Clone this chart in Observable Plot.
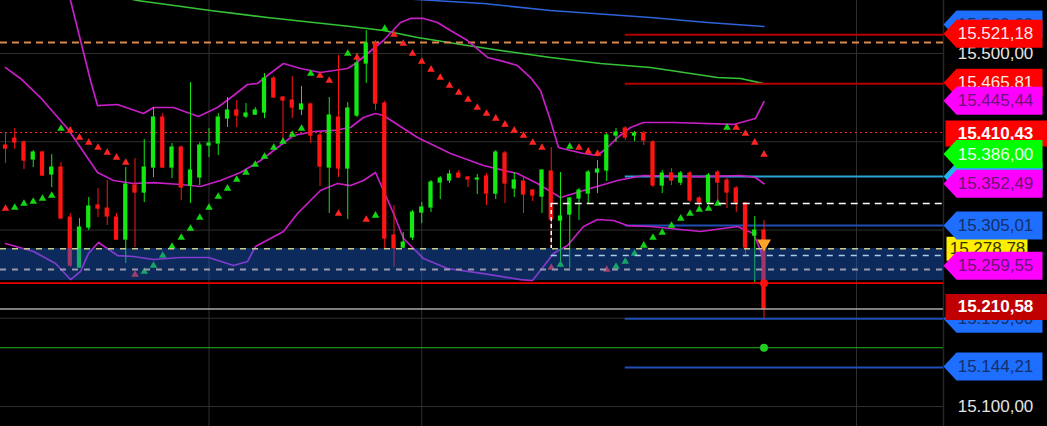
<!DOCTYPE html>
<html><head><meta charset="utf-8">
<script src="https://cdn.jsdelivr.net/npm/d3@7"></script>
<script src="https://cdn.jsdelivr.net/npm/@observablehq/plot@0.6"></script>
<style>html,body{margin:0;padding:0;background:#000;overflow:hidden}</style>
</head><body><div id="chart"></div>
<script>
// ---- candles (index 0..82) ----
const openP  = [15395.7,15403.6,15399.1,15379.9,15387.8,15362.9,15370.8,15314.1,15257.5,15302.8,15327.7,15324.3,15314.1,15289.2,15350.4,15342.5,15370.8,15427.4,15370.8,15393.4,15350.4,15359.5,15395.7,15398.0,15426.3,15435.4,15428.6,15430.8,15433.1,15471.6,15450.1,15446.7,15436.5,15442.2,15407.0,15370.8,15427.4,15369.7,15429.7,15488.6,15511.3,15443.3,15293.7,15280.1,15291.5,15319.8,15325.5,15353.8,15356.1,15364.0,15359.5,15357.2,15360.6,15341.3,15386.7,15347.0,15354.9,15344.7,15337.9,15366.3,15310.7,15317.5,15335.7,15341.3,15365.1,15367.4,15407.0,15415.0,15407.0,15409.3,15399.1,15350.4,15364.0,15353.8,15364.0,15335.7,15331.1,15365.1,15356.1,15347.0,15330.0,15293.7,15299.4];
const highP  = [15409.3,15415.0,15401.0,15390.0,15389.0,15385.5,15376.5,15318.7,15313.0,15336.8,15347.0,15356.1,15318.7,15370.8,15381.0,15402.5,15438.8,15432.0,15398.0,15395.0,15467.1,15399.1,15415.0,15432.0,15450.1,15446.7,15443.3,15438.8,15477.3,15473.9,15451.2,15473.9,15462.6,15444.0,15410.4,15450.1,15497.7,15444.4,15500.0,15526.0,15514.7,15446.0,15327.7,15297.1,15322.1,15331.1,15356.1,15360.6,15367.4,15367.4,15360.6,15362.9,15364.0,15390.0,15389.0,15365.1,15359.5,15345.9,15368.0,15393.4,15365.1,15336.8,15347.0,15367.4,15378.7,15409.3,15415.0,15417.2,15411.6,15411.6,15401.4,15367.4,15369.7,15366.3,15366.3,15337.9,15364.0,15367.4,15358.3,15349.3,15331.1,15315.3,15310.7];
const lowP   = [15375.3,15391.2,15368.5,15370.8,15360.6,15348.1,15312.0,15257.5,15256.4,15299.4,15314.1,15305.1,15288.1,15262.0,15280.1,15331.1,15359.5,15369.7,15358.3,15333.4,15330.0,15350.4,15382.1,15384.4,15416.1,15416.1,15426.3,15429.7,15426.3,15449.0,15400.2,15426.3,15429.7,15398.0,15349.3,15318.7,15359.5,15311.9,15427.4,15466.0,15435.4,15279.0,15257.5,15279.0,15288.1,15307.3,15319.8,15334.5,15352.7,15358.3,15348.1,15340.2,15327.7,15334.5,15330.0,15336.8,15318.7,15332.3,15318.7,15279.0,15257.5,15256.4,15310.7,15330.0,15341.3,15354.9,15399.1,15401.4,15400.2,15395.7,15348.1,15341.3,15350.4,15350.4,15331.1,15325.5,15328.9,15330.0,15324.3,15319.8,15271.1,15240.5,15197.4];
const closeP = [15392.3,15399.1,15378.7,15387.8,15361.7,15370.8,15313.0,15259.8,15302.8,15326.6,15324.3,15315.3,15289.2,15351.5,15342.5,15370.8,15427.4,15370.8,15393.4,15348.1,15367.4,15395.7,15398.0,15427.4,15435.4,15429.7,15432.0,15435.4,15471.6,15450.1,15446.7,15438.8,15442.2,15407.0,15371.9,15429.7,15369.7,15437.6,15488.6,15511.3,15443.3,15290.3,15279.0,15285.8,15319.8,15325.5,15353.8,15358.3,15362.9,15359.5,15357.2,15358.3,15341.3,15387.8,15352.7,15356.1,15340.2,15339.1,15367.4,15311.9,15315.3,15335.7,15344.7,15365.1,15368.5,15407.0,15410.4,15404.8,15409.3,15401.4,15350.4,15364.0,15356.1,15364.0,15333.4,15331.1,15361.7,15353.8,15342.5,15331.1,15280.1,15299.4,15210.58];

// ---- parabolic SAR (one per candle) ----
const sarValue = [15324.4,15325.5,15330.0,15332.3,15335.7,15339.1,15415.0,15412.8,15404.8,15399.1,15393.5,15387.8,15382.2,15376.5,15249.6,15253.0,15259.8,15271.1,15281.3,15291.5,15301.7,15314.2,15325.5,15338.0,15347.1,15357.2,15365.2,15374.2,15383.3,15393.5,15400.3,15408.2,15415.0,15477.3,15475.1,15469.4,15318.7,15500.0,15495.5,15311.9,15316.5,15528.3,15521.5,15511.3,15500.0,15490.9,15481.9,15472.8,15463.7,15455.8,15447.9,15438.8,15432.0,15426.4,15419.6,15412.8,15407.1,15399.1,15393.5,15257.5,15260.9,15394.6,15393.5,15389.0,15386.7,15255.3,15258.7,15264.3,15273.4,15282.5,15291.5,15297.2,15305.1,15313.1,15318.7,15323.2,15324.4,15330.1,15416.2,15416.2,15409.3,15399.2,15385.6];
const sarSide = "rggggggrrrrrrrrgggggggggggggggggggrrrgrrggrrrrrrrrrrrrrrrrrrggrrrrgggggggggggggrrrr";

// ---- Bollinger bands: [candle index, price] ----
const bbUpper = [[6.05,15605.4],[7.03,15560.0],[8.11,15514.7],[9.19,15469.4],[9.95,15441.0],[12.11,15442.2],[14.92,15432.0],[16,15438.8],[18.16,15438.8],[20.86,15428.6],[22.92,15438.8],[24.65,15452.4],[26.16,15464.9],[27.24,15466.0],[28.32,15475.1],[30.05,15488.7],[31.89,15483.0],[34.05,15478.5],[36.97,15483.0],[37.84,15488.7],[39.14,15500.0],[40.86,15514.7],[42.7,15535.1],[43.78,15539.7],[45.19,15539.7],[46.7,15535.1],[48.11,15526.1],[49.95,15514.7],[52.11,15495.5],[53.51,15492.0],[55.35,15486.4],[56.76,15472.8],[57.84,15458.1],[58.92,15424.1],[59.78,15393.5],[61.08,15390.1],[62.49,15386.7],[64,15384.4],[65.08,15393.5],[66.16,15404.8],[67.57,15416.2],[68.97,15421.8],[72.22,15421.8],[78.7,15419.6],[81.08,15426.4],[82,15445.44]];
const bbMiddle = [[0,15484.0],[1.62,15471.7],[3.78,15450.1],[5.19,15433.2],[6.7,15415.0],[8.11,15393.5],[9.95,15365.2],[11.68,15356.1],[13.84,15352.7],[16,15353.8],[18.92,15351.6],[21.08,15349.3],[23.24,15356.1],[25.41,15365.2],[27.57,15378.8],[29.41,15393.5],[31.14,15407.1],[33.3,15411.6],[35.46,15412.8],[37.3,15416.2],[38.7,15427.5],[40,15432.0],[40.86,15429.8],[44.54,15404.8],[48.11,15386.7],[51.68,15373.1],[55.35,15364.0],[57.51,15352.7],[60,15336.9],[62.49,15344.8],[66.16,15356.1],[68.97,15361.8],[75.14,15360.6],[79.46,15361.8],[81.08,15359.5],[82,15352.49]];
const bbLower = [[0,15284.7],[3.03,15275.7],[5.41,15262.1],[7.03,15243.9],[8.11,15253.0],[8.97,15273.4],[10.05,15285.9],[12.11,15271.1],[13.84,15270.0],[16,15266.6],[18.92,15268.9],[21.95,15268.9],[24.65,15259.8],[26.16,15264.3],[27.03,15281.3],[30.05,15298.3],[31.57,15318.7],[34.05,15344.8],[35.89,15352.7],[37.3,15350.4],[38.7,15356.1],[40,15365.2],[40.86,15344.8],[41.95,15318.7],[43.03,15290.4],[45.19,15267.7],[47.78,15256.4],[51.68,15250.7],[55.68,15243.9],[56.97,15242.8],[58.16,15258.7],[59.24,15273.4],[60.76,15282.5],[62.49,15304.0],[64,15311.9],[65.73,15310.8],[67.24,15305.1],[69.73,15304.0],[75.14,15298.3],[79.14,15304.0],[80.86,15296.1],[81.62,15276.8],[82,15259.55]];

// ---- moving averages ----
const maGreen = [[13,15563.0],[14.27,15560.0],[22.16,15548.7],[28.32,15540.8],[37.3,15530.6],[40.86,15526.0],[44.54,15518.1],[49.95,15509.0],[53.51,15503.4],[58.92,15495.5],[64.32,15488.6],[69.73,15484.1],[76.97,15472.8],[79.46,15471.7],[82,15465.81]];
const maBlue = [[44,15561.5],[46.27,15560.0],[51.68,15556.6],[58.92,15548.7],[69.73,15540.8],[75.89,15535.1],[82,15530.6]];

// ---- levels ----
const gridPrices = [15100, 15200, 15300, 15400, 15500];
const gridIdx = [22, 45, 92];
const zoneTop = 15279.0, zoneBottom = 15242.8;
const levelStart = 67;     // candle where right-hand levels start
const boxStart = 59;       // candle where the white box starts
const orangeLevel = 15512.5;
const redDotted = 15410.43;
const yellowDash = 15278.78;
const lightBlueDash = 15271.1;
const greyDash = 15255.3;
const whiteBox = 15330.0;
const redSolid = 15239.8;
const lastPrice = 15210.58;
const greenLevel = 15166.6;
const rightLevels = [
  {p: 15521.18, c: "#b40000"}, {p: 15465.81, c: "#b40000"},
  {p: 15360.6, c: "#2aa6d6"}, {p: 15305.01, c: "#1f4fb4"},
  {p: 15199.6, c: "#1f4fb4"}, {p: 15144.21, c: "#1f4fb4"}
];
const signalDown = 15284.7;

// ---- price labels on the right ----
const labelPrice = [15530.6, 15360.6, 15278.78, 15199.6, 15465.81, 15410.43, 15521.18, 15445.44, 15386.00, 15352.49, 15305.01, 15259.55, 15210.58, 15144.21];
const labelKind  = ["blue","cyan","yellow","blue","red","redBox","red","magenta","green","magenta","blue","magenta","darkBox","blue"];
const axisLabels = [15500, 15100];

const fmt = d3.formatLocale({decimal: ",", thousands: ".", grouping: [3], currency: ["", ""]}).format(",.2f");

const arrowSym = {draw(c) { c.moveTo(-52, 0); c.lineTo(-39, -14); c.lineTo(47, -14); c.lineTo(47, 14); c.lineTo(-39, 14); c.closePath(); }};
const boxSym = {draw(c) { c.moveTo(-50, -13); c.lineTo(52, -13); c.lineTo(52, 13); c.lineTo(-50, 13); c.closePath(); }};
const yBoxSym = {draw(c) { c.moveTo(-49, -12); c.lineTo(32, -12); c.lineTo(32, 12); c.lineTo(-49, 12); c.closePath(); }};
const kindStyle = {
  blue:    {sym: arrowSym, bg: "#1e6eff", fg: "#13306c", bold: false},
  cyan:    {sym: arrowSym, bg: "#22b4ee", fg: "#13306c", bold: false},
  yellow:  {sym: yBoxSym,  bg: "#ffee00", fg: "#333300", bold: false},
  red:     {sym: arrowSym, bg: "#ff0000", fg: "#ffe8e8", bold: false},
  redBox:  {sym: boxSym,   bg: "#ff0000", fg: "#ffffff", bold: true},
  magenta: {sym: arrowSym, bg: "#ff00ff", fg: "#6b1475", bold: false},
  green:   {sym: arrowSym, bg: "#00ff00", fg: "#eaffea", bold: false},
  darkBox: {sym: boxSym,   bg: "#c00000", fg: "#ffffff", bold: true}
};
const labelNudge = [-2, 0, 0, 0, -1, 1, -1, -1, 0, 0, 0, 0, -2, -1];

const candles = openP.map((o, i) => ({i, o, h: highP[i], l: lowP[i], c: closeP[i], up: closeP[i] >= o}));
const sar = sarValue.map((v, i) => ({i, v, side: sarSide[i]}));
const UP = "#12e812", DOWN = "#ff1414";
const font = "Arial, 'Liberation Sans', sans-serif";

const labelMarks = [];
labelPrice.forEach((p, k) => {
  const s = kindStyle[labelKind[k]];
  labelMarks.push(Plot.dot([p], {y: d => d, frameAnchor: "right", dx: 52, dy: labelNudge[k], r: 1, symbol: s.sym, fill: s.bg, stroke: "none"}));
  labelMarks.push(Plot.text([p], {y: d => d, frameAnchor: "right", dx: labelKind[k] === "yellow" ? 44 : 52, dy: labelNudge[k], text: d => fmt(d), fill: s.fg, fontSize: 17, fontFamily: font, fontWeight: s.bold ? "bold" : "normal", textAnchor: "middle"}));
});

const xMax = 101.405;
const chart = Plot.plot({
  width: 1047, height: 426,
  marginLeft: 0, marginRight: 104, marginTop: 0, marginBottom: 0,
  x: {domain: [-0.5405, xMax], axis: null},
  y: {domain: [15077.4, 15560.05], axis: null},
  style: {background: "#000", overflow: "visible"},
  marks: [
    Plot.ruleY(gridPrices, {stroke: "#2f2f2f", strokeWidth: 1}),
    Plot.ruleX(gridIdx, {stroke: "#2f2f2f", strokeWidth: 1}),
    Plot.ruleX([xMax], {stroke: "#262626", strokeWidth: 1.5}),
    Plot.line(maBlue, {x: "0", y: "1", stroke: "#2d63d8", strokeWidth: 1.6, clip: true}),
    Plot.line(maGreen, {x: "0", y: "1", stroke: "#35c435", strokeWidth: 1.6, clip: true}),
    Plot.ruleY([orangeLevel], {stroke: "#d98a4c", strokeWidth: 2, strokeDasharray: "7,5"}),
    Plot.ruleY(rightLevels.filter(d => d.p > 15400), {y: "p", x1: levelStart, x2: xMax, stroke: "c", strokeWidth: 2}),
    Plot.line(bbUpper, {x: "0", y: "1", stroke: "#c61fc6", strokeWidth: 1.7, clip: true}),
    Plot.ruleY([redDotted], {stroke: "#ff2a2a", strokeWidth: 1, strokeDasharray: "2,3"}),
    Plot.ruleY(rightLevels.filter(d => d.p < 15400 && d.p > 15250), {y: "p", x1: levelStart, x2: xMax, stroke: "c", strokeWidth: 2}),
    Plot.line(bbMiddle, {x: "0", y: "1", stroke: "#c61fc6", strokeWidth: 1.7}),
    Plot.line(bbLower, {x: "0", y: "1", stroke: "#c61fc6", strokeWidth: 1.7}),
    Plot.ruleX(candles, {x: "i", y1: "l", y2: "h", stroke: d => d.up ? UP : DOWN, strokeWidth: 1}),
    Plot.rect(candles, {x1: d => d.i - 0.23, x2: d => d.i + 0.23, y1: d => Math.min(d.o, d.c), y2: d => Math.max(d.o, d.c), fill: d => d.up ? UP : DOWN, insetTop: -0.6, insetBottom: -0.6}),
    Plot.dot(sar, {x: "i", y: "v", symbol: "triangle", r: 2.8, fill: d => d.side === "g" ? "#14d414" : "#ff2424", stroke: "none"}),
    Plot.ruleY([whiteBox], {x1: boxStart, x2: xMax, stroke: "#ffffff", strokeWidth: 1.6, strokeDasharray: "7,5"}),
    Plot.ruleX([boxStart], {y1: whiteBox, y2: zoneTop, stroke: "#ffffff", strokeWidth: 1.5, strokeDasharray: "4,3"}),
    Plot.rect([0], {y1: zoneTop, y2: zoneBottom, fill: "#1d64db", fillOpacity: 0.42}),
    Plot.ruleY([yellowDash], {stroke: "#c9c98c", strokeWidth: 1.6, strokeDasharray: "6,6"}),
    Plot.ruleY([lightBlueDash], {x1: boxStart, x2: xMax, stroke: "#a8ccf2", strokeWidth: 1.6, strokeDasharray: "6,6"}),
    Plot.ruleY([greyDash], {stroke: "#9a9aac", strokeWidth: 2, strokeDasharray: "6,6"}),
    Plot.ruleY([redSolid], {stroke: "#e80000", strokeWidth: 1.6}),
    Plot.ruleY([lastPrice], {stroke: "#a8a8a8", strokeWidth: 1.6}),
    Plot.ruleY(rightLevels.filter(d => d.p < 15250), {y: "p", x1: levelStart, x2: xMax, stroke: "c", strokeWidth: 2}),
    Plot.ruleY([greenLevel], {stroke: "#22b822", strokeWidth: 1.2}),
    Plot.dot([signalDown], {x: () => candles.length - 1, y: d => d, symbol: "triangle", rotate: 180, r: 5.2, fill: "#ffa42a", stroke: "none"}),
    Plot.dot([redSolid], {x: () => candles.length - 1, y: d => d, r: 4, fill: "#ff1010"}),
    Plot.dot([greenLevel], {x: () => candles.length - 1, y: d => d, r: 4, fill: "#22cc22"}),
    Plot.text(axisLabels, {y: d => d, frameAnchor: "right", dx: 52, text: d => fmt(d), fill: "#e4e4e4", fontSize: 17, fontFamily: font, textAnchor: "middle"}),
    ...labelMarks
  ]
});
document.getElementById("chart").appendChild(chart);
</script>
</body></html>
